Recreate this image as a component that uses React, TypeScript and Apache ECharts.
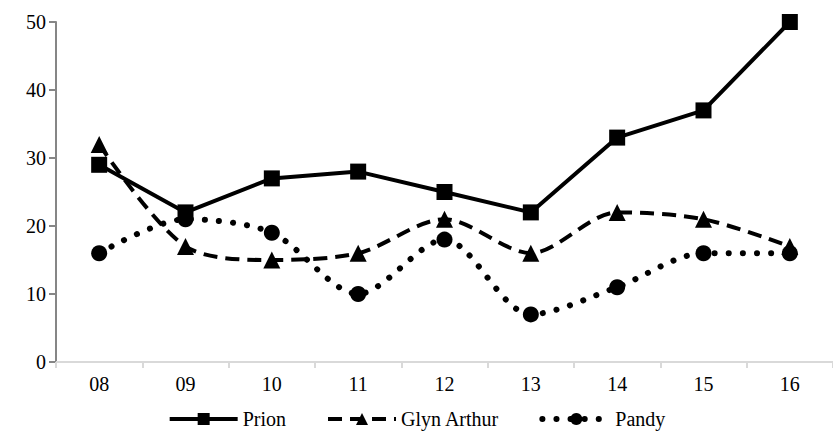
import React, { useEffect, useRef } from "react";
import * as echarts from "echarts";

const categories = ["08", "09", "10", "11", "12", "13", "14", "15", "16"];
const prion = [29, 22, 27, 28, 25, 22, 33, 37, 50];
const glynArthur = [32, 17, 15, 16, 21, 16, 22, 21, 17];
const pandy = [16, 21, 19, 10, 18, 7, 11, 16, 16];

const FONT = "Liberation Serif";

export default function App() {
  const ref = useRef<HTMLDivElement>(null);
  useEffect(() => {
    const chart = echarts.init(ref.current!, undefined, { renderer: "svg" });
    chart.setOption({
      animation: false,
      textStyle: { fontFamily: FONT, fontSize: 20, color: "#000" },
      grid: { left: 56, right: -13, top: 22, bottom: 73 },
      legend: {
        bottom: 1,
        left: "center",
        itemWidth: 68,
        itemHeight: 15,
        itemGap: 40,
        textStyle: { fontFamily: FONT, fontSize: 20, color: "#000" },
        data: [
          { name: "Prion", lineStyle: { width: 4, type: "solid", color: "#000" } },
          { name: "Glyn Arthur", lineStyle: { width: 4, type: [14, 8], color: "#000" } },
          { name: "Pandy", lineStyle: { width: 6, type: [0.1, 14], cap: "round", color: "#000" } },
        ],
      },
      xAxis: {
        type: "category",
        data: categories,
        boundaryGap: true,
        axisLine: { lineStyle: { color: "#d9d9d9", width: 2 } },
        axisTick: { show: true, length: 6, lineStyle: { color: "#d9d9d9", width: 2 } },
        axisLabel: { fontFamily: FONT, fontSize: 20, color: "#000", margin: 12 },
        splitLine: { show: false },
      },
      yAxis: {
        type: "value",
        min: 0,
        max: 50,
        interval: 10,
        axisLine: { show: true, lineStyle: { color: "#868686", width: 2 } },
        axisTick: { show: true, length: 7, lineStyle: { color: "#868686", width: 2 } },
        axisLabel: { fontFamily: FONT, fontSize: 20, color: "#000", margin: 10 },
        splitLine: { show: false },
      },
      series: [
        {
          name: "Prion",
          type: "line",
          data: prion,
          symbol: "rect",
          symbolSize: 16,
          lineStyle: { color: "#000", width: 4, type: "solid" },
          itemStyle: { color: "#000" },
        },
        {
          name: "Glyn Arthur",
          type: "line",
          data: glynArthur,
          smooth: 0.3,
          symbol: "triangle",
          symbolSize: 17,
          lineStyle: { color: "#000", width: 4, type: [14, 8] },
          itemStyle: { color: "#000" },
        },
        {
          name: "Pandy",
          type: "line",
          data: pandy,
          smooth: 0.3,
          symbol: "circle",
          symbolSize: 16,
          lineStyle: { color: "#000", width: 6, type: [0.1, 14], cap: "round" },
          itemStyle: { color: "#000" },
        },
      ],
    });
    return () => chart.dispose();
  }, []);
  return (
    <>
      <style>{`svg text { font-family: 'Liberation Serif', serif !important; font-size: 20px !important; }`}</style>
      <div ref={ref} style={{ width: 833, height: 435, position: "absolute", left: 0, top: 0 }} />
    </>
  );
}
